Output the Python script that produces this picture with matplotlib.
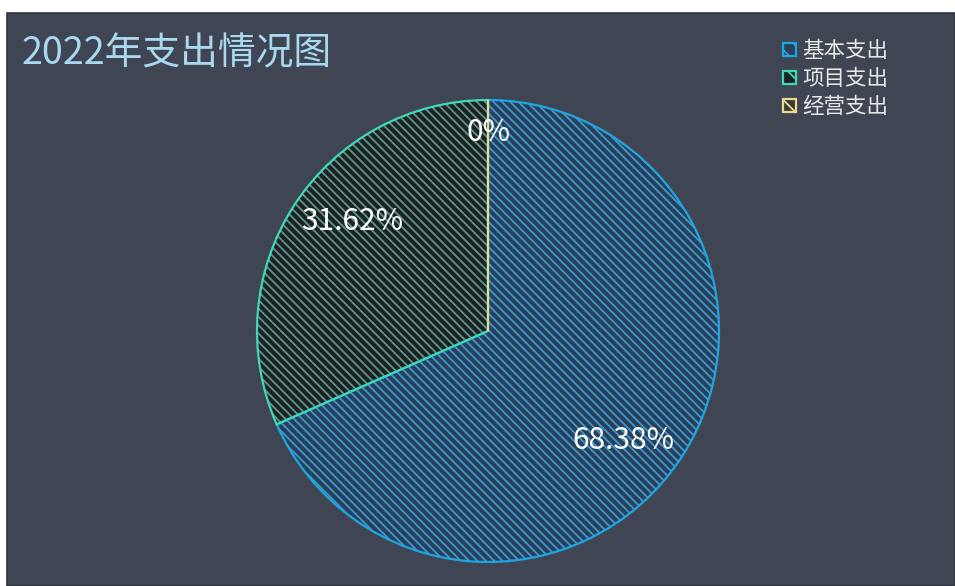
import matplotlib.pyplot as plt
from matplotlib.patches import Patch, Rectangle
import numpy as np

plt.rcParams['font.family'] = ['Noto Sans CJK SC', 'DejaVu Sans']
plt.rcParams['hatch.linewidth'] = 1.3

# Data
categories = ['基本支出', '项目支出', '经营支出']
values = [68.38, 31.62, 0.0]
pct_labels = ['68.38%', '31.62%', '0%']
title = '2022年支出情况图'

# Colours
bg_color = '#3f4552'
edge_colors = ['#1ea6e0', '#3fd8b8', '#e8d890']
fill_colors = ['#2c3f58', '#1a2224', '#3a3a30']
hatch_colors = ['#3a9ad2', '#62958a', '#b8ac70']

fig = plt.figure(figsize=(9.55, 5.86), dpi=100, facecolor='white')
ax = fig.add_axes([0, 0, 1, 1])

# dark chart background (scan leaves a white strip at top/left)
ax.add_patch(Rectangle((7, 0), 948, 573, facecolor=bg_color, edgecolor='#30343c',
                       linewidth=1.2, zorder=0))

center = (488, 586 - 331)
radius = 231

# hatched fill layer
wedges_fill, _ = ax.pie(values, startangle=90, counterclock=False, center=center,
                        radius=radius, normalize=True,
                        wedgeprops=dict(linewidth=0))
for w, fc, hc in zip(wedges_fill, fill_colors, hatch_colors):
    w.set_facecolor(fc)
    w.set_edgecolor(hc)
    w.set_hatch('\\\\\\\\')
    w.set_linewidth(0)
    w.set_zorder(1)

# outline layer
wedges, _ = ax.pie(values, startangle=90, counterclock=False, center=center,
                   radius=radius, normalize=True,
                   wedgeprops=dict(facecolor='none', linewidth=1.6))
for w, ec in zip(wedges, edge_colors):
    w.set_edgecolor(ec)
    w.set_zorder(2)

# percentage labels, placed from the wedge angles
for w, lab, v in zip(wedges, pct_labels, values):
    mid = np.deg2rad((w.theta1 + w.theta2) / 2 - 6)
    dist = 0.755 * radius
    if v == 0:
        mid = np.deg2rad(90)
        dist = 0.86 * radius
    ax.text(center[0] + dist * np.cos(mid), center[1] + dist * np.sin(mid), lab,
            color='white', fontsize=21.5, ha='center', va='center', zorder=3)

ax.set_xlim(0, 955)
ax.set_ylim(0, 586)
ax.set_aspect('equal')
ax.axis('off')

ax.text(22, 586 - 54, title, fontsize=27.2, color='#a9d9ef', ha='left', va='center')

handles = [Patch(facecolor=fc, edgecolor=ec, hatch='\\\\', linewidth=1.6)
           for fc, ec in zip(fill_colors, edge_colors)]
leg = ax.legend(handles, categories, loc='upper left', bbox_to_anchor=(783 / 955, 1 - 40 / 586),
                frameon=False, fontsize=15.5, labelcolor='#e8e8e8',
                handlelength=0.6, handleheight=0.6, handletextpad=0.3,
                labelspacing=0.28, borderaxespad=0, borderpad=0)

fig.savefig('out.png', dpi=100, facecolor='white')
